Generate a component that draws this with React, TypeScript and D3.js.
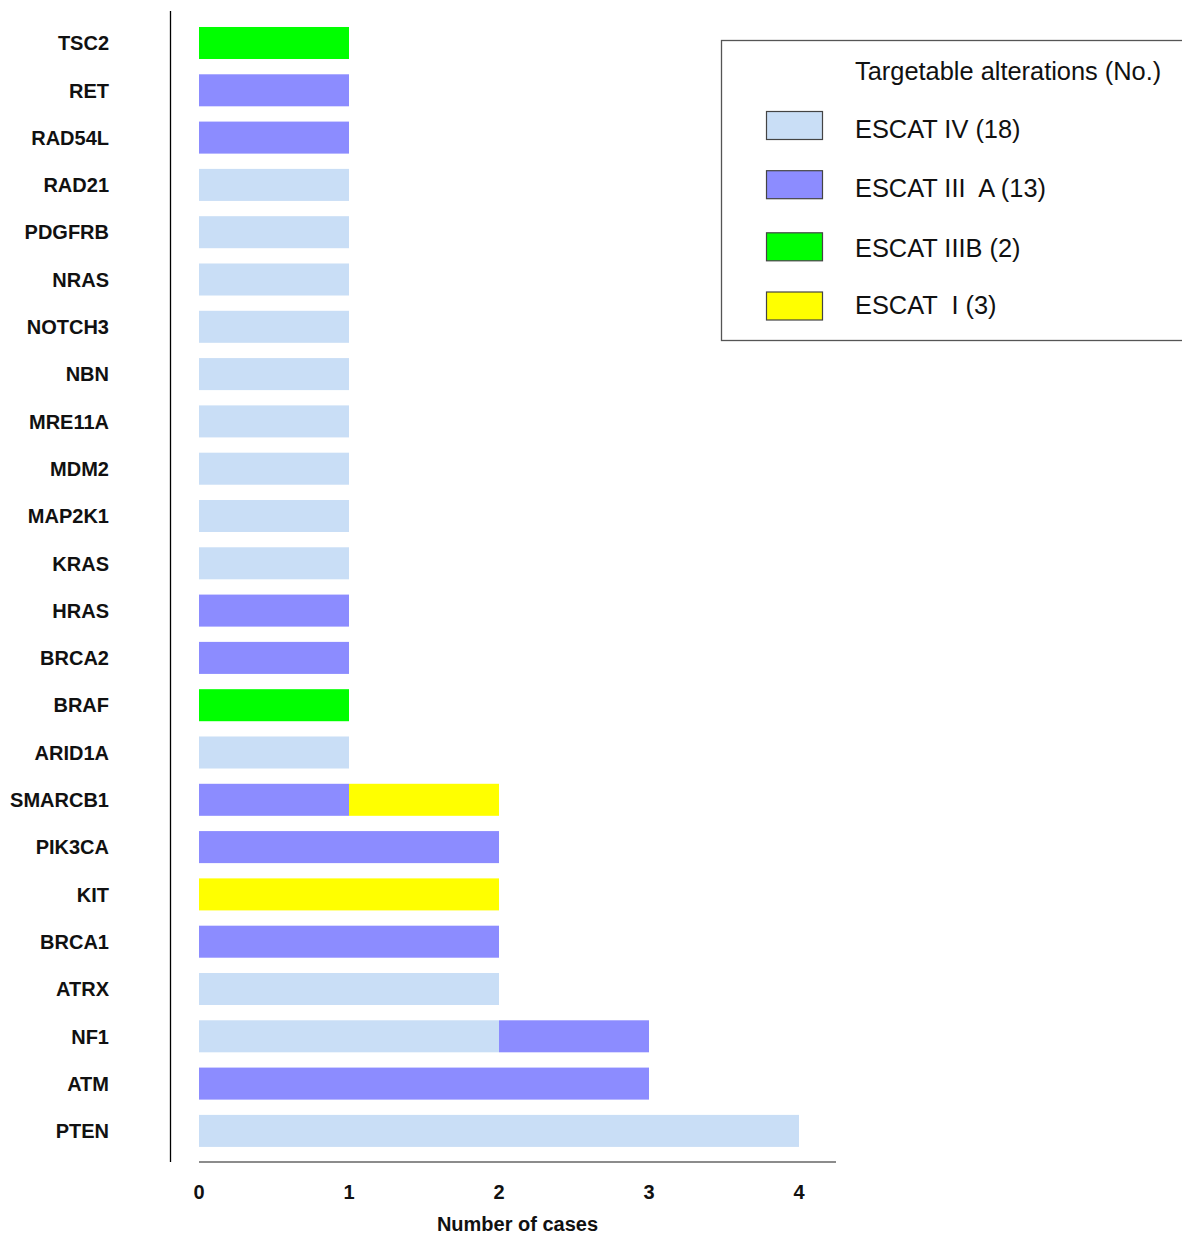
import React, { useEffect, useRef } from 'react';
import * as d3 from 'd3';

// genes, top to bottom
const genes = [
  'TSC2', 'RET', 'RAD54L', 'RAD21', 'PDGFRB', 'NRAS', 'NOTCH3', 'NBN', 'MRE11A', 'MDM2',
  'MAP2K1', 'KRAS', 'HRAS', 'BRCA2', 'BRAF', 'ARID1A', 'SMARCB1', 'PIK3CA', 'KIT', 'BRCA1',
  'ATRX', 'NF1', 'ATM', 'PTEN',
];

// cases per ESCAT tier, same order as genes
const escatIV = [0, 0, 0, 1, 1, 1, 1, 1, 1, 1, 1, 1, 0, 0, 0, 1, 0, 0, 0, 0, 2, 2, 0, 4];
const escatIIIA = [0, 1, 1, 0, 0, 0, 0, 0, 0, 0, 0, 0, 1, 1, 0, 0, 1, 2, 0, 2, 0, 1, 3, 0];
const escatIIIB = [1, 0, 0, 0, 0, 0, 0, 0, 0, 0, 0, 0, 0, 0, 1, 0, 0, 0, 0, 0, 0, 0, 0, 0];
const escatI = [0, 0, 0, 0, 0, 0, 0, 0, 0, 0, 0, 0, 0, 0, 0, 0, 1, 0, 2, 0, 0, 0, 0, 0];

const tierKeys = ['IV', 'IIIA', 'IIIB', 'I'];
const tierLabels = ['ESCAT IV (18)', 'ESCAT III  A (13)', 'ESCAT IIIB (2)', 'ESCAT  I (3)'];
const tierColors = ['#c9def6', '#8c8cff', '#00ff00', '#ffff00'];
const xTicks = [0, 1, 2, 3, 4];

const App: React.FC = () => {
  const svgRef = useRef<SVGSVGElement>(null);

  useEffect(() => {
    if (!svgRef.current) return;
    const svg = d3.select(svgRef.current);
    svg.selectAll('*').remove();

    const font = 'Liberation Sans, Arial, sans-serif';
    const step = 47.3;

    const x = d3.scaleLinear().domain([0, 4]).range([199, 799]);
    const y = d3.scaleBand<string>()
      .domain(genes)
      .range([43 - step / 2, 43 - step / 2 + step * genes.length])
      .paddingInner(0.323)
      .paddingOuter(0.1615);

    const rows = genes.map((g, i) => ({
      gene: g, IV: escatIV[i], IIIA: escatIIIA[i], IIIB: escatIIIB[i], I: escatI[i],
    }));
    const stacked = d3.stack<any>().keys(tierKeys)(rows);
    const color = d3.scaleOrdinal<string, string>().domain(tierKeys).range(tierColors);

    // Bars
    svg.append('g')
      .selectAll('g')
      .data(stacked)
      .join('g')
      .attr('fill', d => color(d.key))
      .selectAll('rect')
      .data(d => d.filter(s => s[1] - s[0] > 0))
      .join('rect')
      .attr('x', d => x(d[0]))
      .attr('y', d => y(d.data.gene) || 0)
      .attr('width', d => x(d[1]) - x(d[0]))
      .attr('height', y.bandwidth());

    // left line
    svg.append('line')
      .attr('x1', 170.5).attr('x2', 170.5)
      .attr('y1', 11).attr('y2', 1162)
      .attr('stroke', '#000').attr('stroke-width', 1.3);

    // bottom axis line
    svg.append('line')
      .attr('x1', 199).attr('x2', 836)
      .attr('y1', 1162).attr('y2', 1162)
      .attr('stroke', '#666').attr('stroke-width', 1.3);

    // Gene labels
    svg.append('g')
      .selectAll('text')
      .data(genes)
      .join('text')
      .attr('x', 109)
      .attr('y', d => (y(d) || 0) + y.bandwidth() / 2)
      .attr('dy', '0.36em')
      .attr('text-anchor', 'end')
      .style('font-family', font)
      .style('font-weight', 'bold')
      .style('font-size', '20px')
      .style('fill', '#111')
      .text(d => d);

    // X tick labels
    svg.append('g')
      .selectAll('text')
      .data(xTicks)
      .join('text')
      .attr('x', d => x(d))
      .attr('y', 1199)
      .attr('text-anchor', 'middle')
      .style('font-family', font)
      .style('font-weight', 'bold')
      .style('font-size', '20px')
      .style('fill', '#111')
      .text(d => d);

    svg.append('text')
      .attr('x', 517.5)
      .attr('y', 1231)
      .attr('text-anchor', 'middle')
      .style('font-family', font)
      .style('font-weight', 'bold')
      .style('font-size', '20px')
      .style('fill', '#111')
      .text('Number of cases');

    // Legend
    const lg = svg.append('g');
    lg.append('rect')
      .attr('x', 721.5).attr('y', 40.5)
      .attr('width', 480).attr('height', 300)
      .attr('fill', 'none').attr('stroke', '#555').attr('stroke-width', 1.3);
    lg.append('text')
      .attr('x', 855).attr('y', 80)
      .style('font-family', font)
      .style('font-size', '25.4px')
      .style('fill', '#111')
      .text('Targetable alterations (No.)');
    const swatchY = [125.5, 184.7, 246.8, 306];
    const textY = [138.3, 196.7, 256.5, 314];
    tierKeys.forEach((k, i) => {
      lg.append('rect')
        .attr('x', 766.5).attr('y', swatchY[i] - 14)
        .attr('width', 56).attr('height', 28)
        .attr('fill', color(k))
        .attr('stroke', '#444').attr('stroke-width', 1.2);
      lg.append('text')
        .attr('x', 855).attr('y', textY[i])
        .attr('xml:space', 'preserve')
        .style('white-space', 'pre')
        .style('font-family', font)
        .style('font-size', '25.4px')
        .style('fill', '#111')
        .text(tierLabels[i]);
    });
  }, []);

  return (
    <svg
      ref={svgRef}
      width={1182}
      height={1236}
      style={{ position: 'absolute', left: 0, top: 0, background: '#fff' }}
    />
  );
};

export default App;
